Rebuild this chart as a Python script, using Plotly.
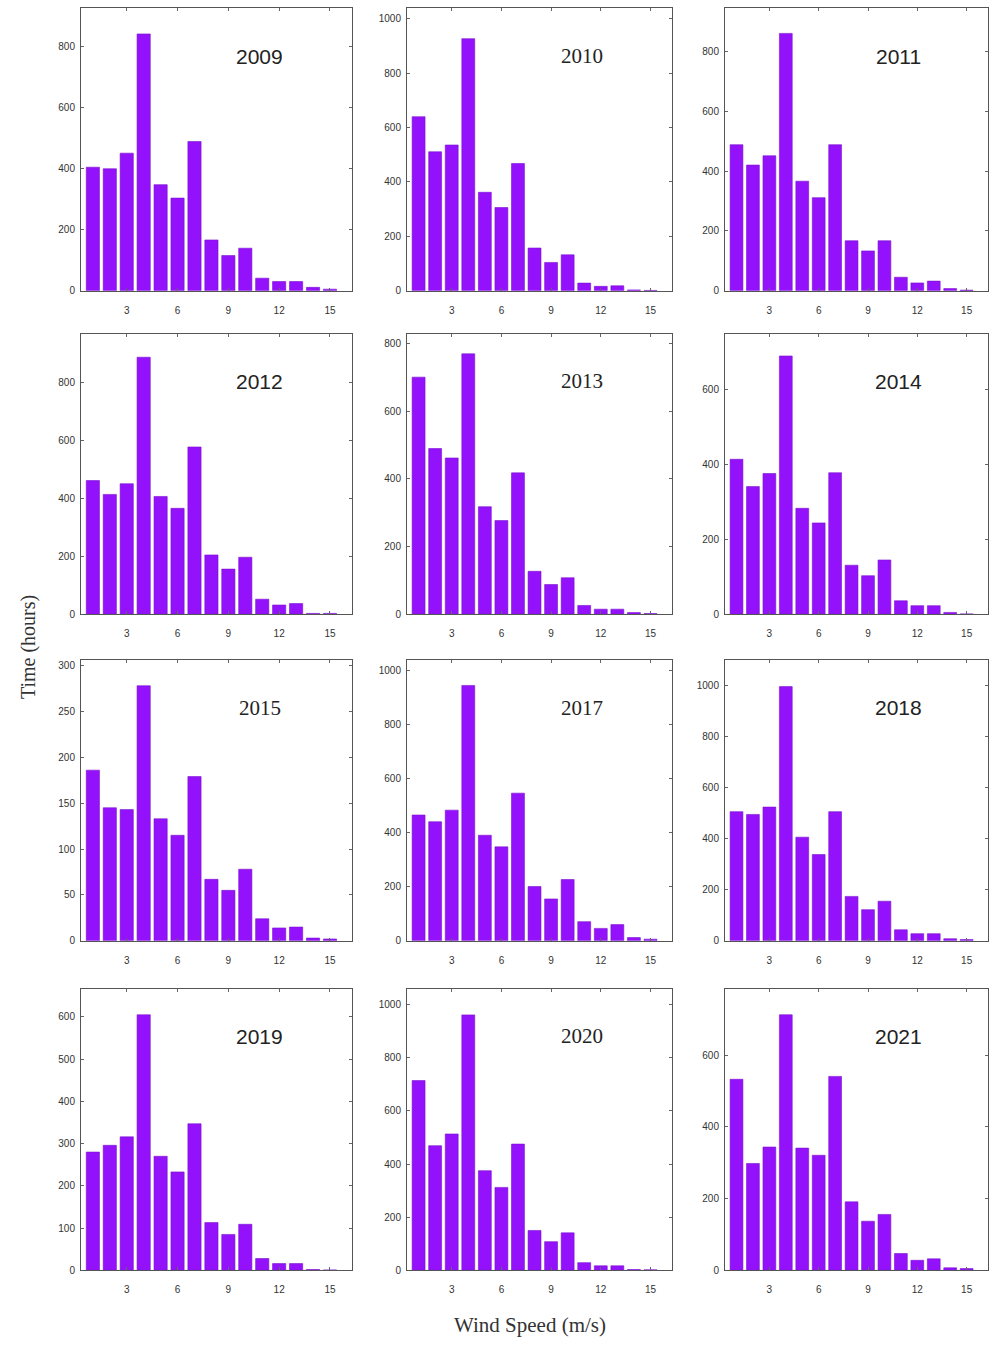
import plotly.graph_objects as go

# ---- data ----
speeds = list(range(1, 16))
years = ["2009", "2010", "2011", "2012", "2013", "2014",
         "2015", "2017", "2018", "2019", "2020", "2021"]

h2009 = [404, 399, 450, 840, 347, 303, 488, 166, 115, 139, 41, 30, 30, 11, 5]
h2010 = [640, 511, 536, 927, 362, 306, 468, 157, 104, 132, 28, 16, 18, 3, 1]
h2011 = [488, 420, 451, 860, 366, 311, 488, 167, 133, 167, 45, 26, 32, 7, 2]
h2012 = [462, 414, 451, 888, 407, 366, 578, 205, 156, 197, 52, 32, 37, 3, 3]
h2013 = [701, 490, 462, 770, 318, 277, 418, 127, 88, 108, 26, 15, 15, 5, 2]
h2014 = [414, 341, 376, 690, 283, 244, 378, 131, 103, 145, 36, 23, 23, 5, 1]
h2015 = [186, 145, 143, 278, 133, 115, 179, 67, 55, 78, 24, 14, 15, 3, 2]
h2017 = [466, 441, 484, 946, 391, 348, 547, 201, 155, 227, 71, 46, 60, 12, 6]
h2018 = [506, 495, 524, 996, 406, 338, 506, 174, 122, 155, 43, 28, 28, 8, 5]
h2019 = [280, 296, 316, 605, 270, 233, 347, 113, 85, 109, 28, 16, 16, 2, 1]
h2020 = [714, 469, 513, 961, 375, 312, 475, 150, 108, 141, 29, 17, 17, 3, 2]
h2021 = [533, 298, 344, 713, 341, 321, 541, 191, 137, 156, 47, 28, 32, 7, 5]
hours = [h2009, h2010, h2011, h2012, h2013, h2014,
         h2015, h2017, h2018, h2019, h2020, h2021]

y_max = [925, 1040, 945, 970, 830, 750, 306, 1040, 1100, 667, 1060, 786]
y_dtick = [200, 200, 200, 200, 200, 200, 50, 200, 200, 100, 200, 200]
x_ticks = [3, 6, 9, 12, 15]
serif_label = [False, True, False, False, True, False, True, True, False, False, True, False]

# ---- layout geometry (pixels) ----
W, H = 991, 1351
col_px = [(81, 352), (407, 672), (725, 988)]
row_px = [(8, 292), (335, 617), (663, 945), (993, 1276)]

BAR = "#9412fb"
fig = go.Figure()
for i, (yr, vals) in enumerate(zip(years, hours)):
    r, c = divmod(i, 3)
    n = i + 1
    xa = "x" if n == 1 else f"x{n}"
    ya = "y" if n == 1 else f"y{n}"
    fig.add_trace(go.Bar(x=speeds, y=vals, xaxis=xa, yaxis=ya, width=0.78,
                         marker=dict(color=BAR, line=dict(color="#7a10d0", width=0.6)),
                         showlegend=False))
    x0, x1 = col_px[c]
    y0, y1 = row_px[r]
    axis_common = dict(showline=True, linecolor="#555", linewidth=1, mirror="ticks",
                       ticks="inside", ticklen=3, tickcolor="#666", showgrid=False,
                       zeroline=False, tickfont=dict(family="Liberation Sans", size=10, color="#333"))
    fig.layout[f"xaxis{'' if n == 1 else n}"] = dict(
        domain=[x0 / W, x1 / W], range=[0.3, 16.3], anchor=ya,
        tickmode="array", tickvals=x_ticks, ticklabelstandoff=10, **axis_common)
    fig.layout[f"yaxis{'' if n == 1 else n}"] = dict(
        domain=[1 - y1 / H, 1 - y0 / H], range=[0, y_max[i]], anchor=xa,
        dtick=y_dtick[i], tick0=0, ticklabelstandoff=3, **axis_common)
    fig.add_annotation(text=yr, xref=f"{xa} domain", yref=f"{ya} domain",
                       x=0.66, y=0.83, xanchor="center", yanchor="middle", showarrow=False,
                       font=dict(family="Liberation Serif" if serif_label[i] else "Liberation Sans",
                                 size=21, color="#222"))

fig.add_annotation(text="Time (hours)", xref="paper", yref="paper",
                   x=28 / W, y=1 - 650 / H, xanchor="center", yanchor="middle",
                   textangle=-90, showarrow=False,
                   font=dict(family="Liberation Serif", size=20, color="#333"))
fig.add_annotation(text="Wind Speed (m/s)", xref="paper", yref="paper",
                   x=530 / W, y=1 - 1331 / H, xanchor="center", yanchor="middle", showarrow=False,
                   font=dict(family="Liberation Serif", size=21, color="#333"))

fig.update_layout(width=W, height=H, margin=dict(l=0, r=0, t=0, b=0),
                  plot_bgcolor="white", paper_bgcolor="white", bargap=0.2)
fig.write_html("out.html")
